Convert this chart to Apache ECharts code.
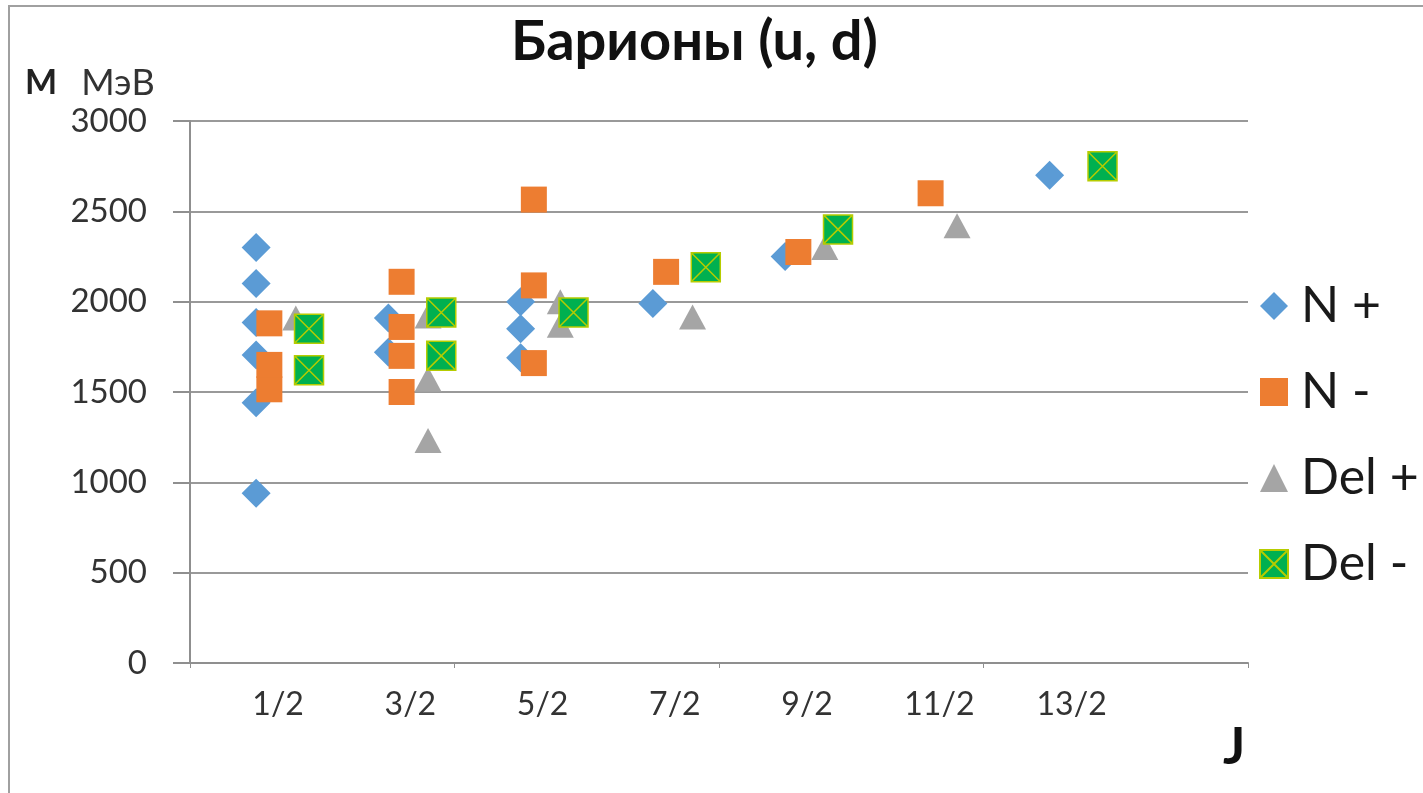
<!DOCTYPE html>
<html>
<head>
<meta charset="utf-8">
<script src="https://cdn.jsdelivr.net/npm/echarts@6/dist/echarts.min.js"></script>
<style>
  html, body, #main { width: 100%; height: 100%; margin: 0; background: #fff; }
</style>
</head>
<body>
<div id="main"></div>
<script>
// spin labels under the axis
var jLabels = ['1/2', '3/2', '5/2', '7/2', '9/2', '11/2', '13/2'];

// N + (J, mass in MeV)
var nPlusJ = [0.5, 0.5, 0.5, 0.5, 0.5, 0.5, 1.5, 1.5, 2.5, 2.5, 2.5, 3.5, 4.5, 6.5];
var nPlusM = [940, 1440, 1705, 1885, 2100, 2300, 1720, 1910, 1690, 1850, 2000, 1990, 2250, 2700];

// N -
var nMinusJ = [0.5, 0.5, 0.5, 1.5, 1.5, 1.5, 1.5, 2.5, 2.5, 2.5, 3.5, 4.5, 5.5];
var nMinusM = [1515, 1650, 1880, 1500, 1700, 1860, 2110, 1660, 2090, 2565, 2165, 2275, 2600];

// Del +
var dPlusJ = [0.5, 1.5, 1.5, 1.5, 2.5, 2.5, 3.5, 4.5, 5.5];
var dPlusM = [1910, 1232, 1570, 1920, 1870, 2000, 1915, 2300, 2420];

// Del -
var dMinusJ = [0.5, 0.5, 1.5, 1.5, 2.5, 3.5, 4.5, 6.5];
var dMinusM = [1620, 1850, 1700, 1940, 1940, 2190, 2400, 2750];

// pairs J with mass; shift spreads the groups sideways like the original
function pts(js, ms, shift) {
  return js.map(function (j, i) { return [j + shift, ms[i]]; });
}

var font = 'Lato, "Open Sans", sans-serif';
var chart = echarts.init(document.getElementById('main'));

chart.setOption({
  backgroundColor: '#fff',
  animation: false,
  title: [{
    text: 'Барионы (u, d)',
    left: 506,
    top: 9,
    textStyle: { fontFamily: font, fontSize: 56, fontWeight: 'bold', color: '#111' }
  }, {
    text: '{b|M}{n|МэВ}',
    left: 20,
    top: 60,
    textStyle: {
      fontWeight: 'normal',
      rich: {
        b: { fontFamily: font, fontSize: 34, fontWeight: 'bold', color: '#222' },
        n: { fontFamily: font, fontSize: 36, fontWeight: 'normal', color: '#333', padding: [0, 0, 0, 24] }
      }
    }
  }, {
    text: 'J',
    left: 1218,
    top: 716,
    textStyle: { fontFamily: font, fontSize: 52, fontWeight: 'bold', color: '#111' }
  }],
  legend: {
    data: ['N +', 'N -', 'Del +', 'Del -'],
    orient: 'vertical',
    left: 1254,
    top: 276,
    itemWidth: 28,
    itemHeight: 28,
    itemGap: 36,
    textStyle: { fontFamily: font, fontSize: 50, color: '#1a1a1a', padding: [0, 0, 0, 8] }
  },
  graphic: [{
    type: 'rect',
    shape: { x: 9, y: 6, width: 1500, height: 900 },
    style: { fill: 'none', stroke: '#a0a0a0', lineWidth: 2 },
    silent: true
  }],
  grid: { left: 190, right: 175, top: 121, bottom: 130, containLabel: false },
  xAxis: [{
    type: 'value',
    min: 0,
    max: 8,
    interval: 2,
    axisLine: { show: true, lineStyle: { color: '#8f8f8f', width: 2 } },
    axisTick: { show: true, length: 5, lineStyle: { color: '#8f8f8f' } },
    axisLabel: { show: false },
    splitLine: { show: false }
  }, {
    type: 'value',
    position: 'bottom',
    min: 0,
    max: 8,
    interval: 0.5,
    axisLine: { show: false },
    axisTick: { show: false },
    splitLine: { show: false },
    axisLabel: {
      show: true,
      margin: 26,
      padding: [0, 0, 0, 44],
      fontFamily: font,
      fontSize: 32,
      color: '#333',
      formatter: function (v) {
        var k = Math.round(v * 2);
        return (k % 2 === 1 && k <= 13) ? jLabels[(k - 1) / 2] : '';
      }
    }
  }],
  yAxis: {
    type: 'value',
    min: 0,
    max: 3000,
    interval: 500,
    axisLine: { show: true, lineStyle: { color: '#8f8f8f', width: 2 } },
    axisTick: { show: true, length: 17, lineStyle: { color: '#8f8f8f', width: 2 } },
    axisLabel: {
      margin: 43, fontFamily: font, fontSize: 33, color: '#333',
      formatter: function (v) { return String(v); }
    },
    splitLine: { show: true, lineStyle: { color: '#999', width: 2 } }
  },
  series: [{
    name: 'N +',
    type: 'scatter',
    symbol: 'diamond',
    symbolSize: [29, 29],
    itemStyle: { color: '#5b9bd5', opacity: 1 },
    data: pts(nPlusJ, nPlusM, 0)
  }, {
    name: 'N -',
    type: 'scatter',
    symbol: 'rect',
    symbolSize: 26,
    itemStyle: { color: '#ed7d31', opacity: 1 },
    data: pts(nMinusJ, nMinusM, 0.1)
  }, {
    name: 'Del +',
    type: 'scatter',
    symbol: 'triangle',
    symbolSize: [27, 25],
    itemStyle: { color: '#a5a5a5', opacity: 1 },
    data: pts(dPlusJ, dPlusM, 0.3)
  }, {
    name: 'Del -',
    type: 'scatter',
    symbol: 'path://M0,0H10V10H0Z M0,0L10,10 M10,0L0,10',
    symbolSize: 29,
    itemStyle: { color: '#00b050', borderColor: '#b6cc00', borderWidth: 1.5, opacity: 1 },
    data: pts(dMinusJ, dMinusM, 0.4)
  }]
});
</script>
</body>
</html>
